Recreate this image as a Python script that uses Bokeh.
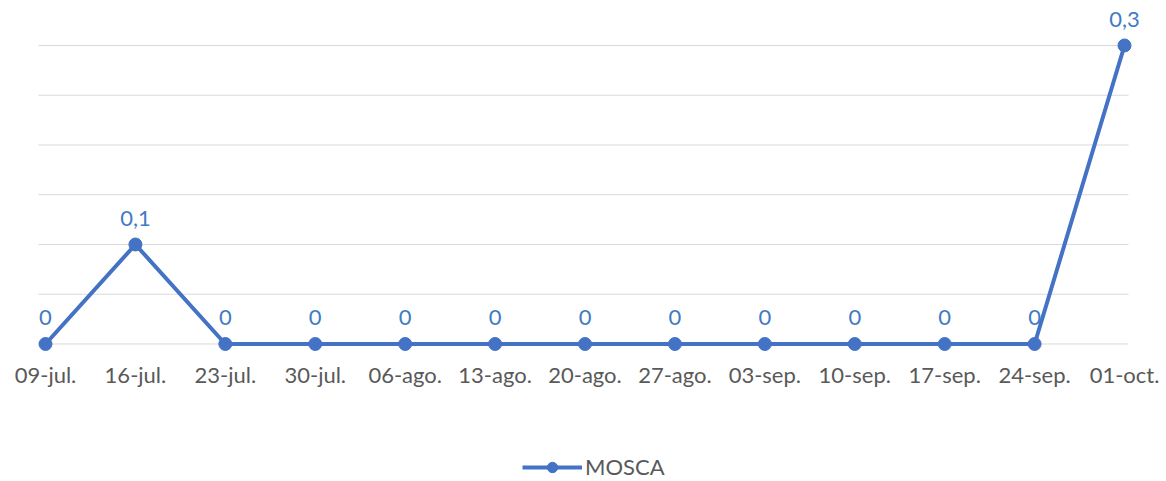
from bokeh.plotting import figure
from bokeh.models import ColumnDataSource, FixedTicker, Legend, LegendItem
from bokeh.core.properties import value
from bokeh.embed import file_html
from bokeh.resources import INLINE

categories = ["09-jul.", "16-jul.", "23-jul.", "30-jul.", "06-ago.", "13-ago.", "20-ago.",
              "27-ago.", "03-sep.", "10-sep.", "17-sep.", "24-sep.", "01-oct."]
mosca = [0, 0.1, 0, 0, 0, 0, 0, 0, 0, 0, 0, 0, 0.3]
y_ticks = [0, 0.05, 0.1, 0.15, 0.2, 0.25, 0.3]

xs = list(range(len(categories)))
labels = [("%g" % v).replace(".", ",") for v in mosca]
src = ColumnDataSource(dict(x=xs, y=mosca, lab=labels))

# gridlines span (data units along x)
GRID_X0, GRID_X1 = -0.078, 12.045
grid_src = ColumnDataSource(dict(y=y_ticks, x0=[GRID_X0] * len(y_ticks), x1=[GRID_X1] * len(y_ticks)))

LINE = "#4472C4"
LAB = "#3F7BC4"
FONT = "Lato"

p = figure(width=1166, height=481, output_backend="svg", toolbar_location=None,
           x_range=(-0.5005, 12.467), y_range=(-0.1382, 0.3452),
           min_border_left=0, min_border_right=0, min_border_top=0, min_border_bottom=0)
p.outline_line_color = None
p.background_fill_color = "white"
p.border_fill_color = "white"

p.yaxis.visible = False
p.ygrid.visible = False
p.xgrid.visible = False

p.segment(x0="x0", x1="x1", y0="y", y1="y", source=grid_src, line_color="#d9d9d9", line_width=1)

p.xaxis.fixed_location = 0
p.xaxis.ticker = FixedTicker(ticks=xs)
p.xaxis.major_label_overrides = {i: c for i, c in enumerate(categories)}
p.xaxis.axis_line_color = None
p.xaxis.major_tick_line_color = None
p.xaxis.minor_tick_line_color = None
p.xaxis.major_tick_out = 0
p.xaxis.major_tick_in = 0
p.xaxis.major_label_text_font = FONT
p.xaxis.major_label_text_font_size = "22px"
p.xaxis.major_label_text_color = "#595959"
p.xaxis.major_label_standoff = 17

r_line = p.line("x", "y", source=src, line_color=LINE, line_width=4)
r_pts = p.scatter("x", "y", source=src, size=13, fill_color=LINE, line_color=LINE)

p.text("x", "y", text="lab", source=src, text_align="center", text_baseline="alphabetic",
       y_offset=-26, text_font=value(FONT), text_font_size="22px", text_color=LAB)

legend = Legend(items=[LegendItem(label="MOSCA", renderers=[r_line, r_pts])],
                location=(522, 1), orientation="horizontal",
                padding=0, margin=0, spacing=0, glyph_width=60, glyph_height=26,
                label_height=26, label_standoff=3, label_text_font=FONT,
                label_text_font_size="22px", label_text_color="#595959",
                background_fill_alpha=0, border_line_color=None)
p.add_layout(legend, "center")

open("out.html", "w").write(file_html(p, INLINE))
